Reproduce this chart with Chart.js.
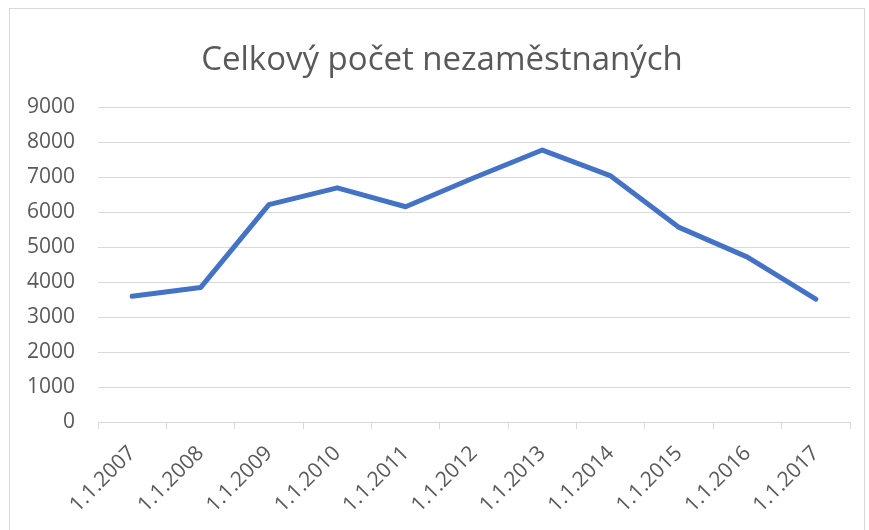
<!DOCTYPE html>
<html>
<head>
<meta charset="utf-8">
<script src="https://cdn.jsdelivr.net/npm/chart.js@4"></script>
<style>
  html, body { margin: 0; padding: 0; background: #fff; }
  #wrap { position: relative; width: 869px; height: 530px; }
  #frame { position: absolute; left: 9px; top: 8px; width: 856px; height: 530px;
           border: 1px solid #d9d9d9; box-sizing: border-box; pointer-events: none; }
  canvas { position: absolute; left: 0; top: 0; }
</style>
</head>
<body>
<div id="wrap">
  <canvas id="c" width="869" height="530"></canvas>
  <div id="frame"></div>
</div>
<script>
const categories = ["1.1.2007","1.1.2008","1.1.2009","1.1.2010","1.1.2011","1.1.2012","1.1.2013","1.1.2014","1.1.2015","1.1.2016","1.1.2017"];
const unemployed = [3590, 3840, 6210, 6690, 6150, 6980, 7770, 7030, 5560, 4710, 3510];
const yTicks = [0, 1000, 2000, 3000, 4000, 5000, 6000, 7000, 8000, 9000];
const titleText = "Celkový počet nezaměstnaných";

const FONT = "'Open Sans', 'Noto Sans', sans-serif";
const GREY = "#595959";
const GRID = "#d9d9d9";

const titleShift = {
  id: 'titleShift',
  afterLayout(chart) {
    if (chart.titleBlock) { chart.titleBlock.left += 34; }
  }
};

new Chart(document.getElementById('c'), {
  type: 'line',
  data: {
    labels: categories,
    datasets: [{
      data: unemployed,
      borderColor: '#4472C4',
      borderWidth: 5,
      pointRadius: 0,
      tension: 0,
      borderCapStyle: 'round',
      borderJoinStyle: 'round',
      fill: false
    }]
  },
  plugins: [titleShift],
  options: {
    responsive: false,
    animation: false,
    devicePixelRatio: 1,
    layout: { padding: { left: 0, right: 19, top: 0, bottom: 0 } },
    plugins: {
      legend: { display: false },
      tooltip: { enabled: false },
      title: {
        display: true,
        text: titleText,
        color: GREY,
        font: { family: FONT, size: 33, weight: 'normal', lineHeight: 1.2 },
        padding: { top: 41, bottom: 26.4 }
      }
    },
    scales: {
      x: {
        offset: true,
        grid: { display: true, drawOnChartArea: false, drawTicks: true, tickLength: 7, color: GRID, offset: true, lineWidth: 1 },
        border: { display: true, color: GRID, width: 1 },
        ticks: { color: GREY, font: { family: FONT, size: 21 }, minRotation: 45, maxRotation: 45, padding: 12, autoSkip: false },
        afterFit: (s) => { s.height = 108; }
      },
      y: {
        min: yTicks[0],
        max: yTicks[yTicks.length - 1],
        afterBuildTicks: (s) => { s.ticks = yTicks.map(v => ({ value: v })); },
        grid: { color: GRID, lineWidth: 1, drawTicks: false },
        border: { display: false },
        ticks: { color: GREY, font: { family: FONT, size: 21 }, padding: 23, callback: (v) => String(v) },
        afterFit: (s) => { s.width = 98; }
      }
    }
  }
});
</script>
</body>
</html>
